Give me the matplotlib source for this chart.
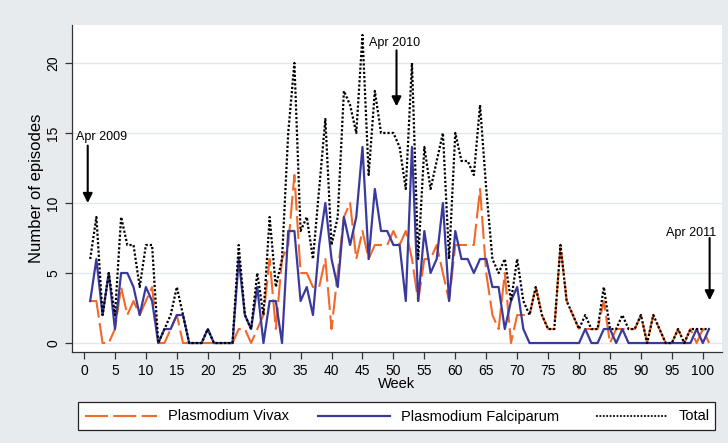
import numpy as np
import matplotlib
matplotlib.use("Agg")
import matplotlib.pyplot as plt
from matplotlib.lines import Line2D
from matplotlib.patches import Rectangle

plt.rcParams['font.family'] = ['Liberation Sans', 'DejaVu Sans']

# weekly episode counts
weeks = list(range(1, 102))

vivax = [3, 3, 0, 0, 1, 4, 2, 3, 2, 3,
         4, 0, 0, 1, 2, 0, 0, 0, 0, 0,
         0, 0, 0, 0, 1, 1, 0, 1, 2, 6,
         1, 6, 7, 12, 5, 5, 4, 4, 6, 1,
         5, 9, 10, 6, 8, 6, 7, 7, 7, 8,
         7, 8, 6, 3, 6, 6, 7, 5, 3, 7,
         7, 7, 7, 11, 5, 2, 1, 5, 0, 2,
         2, 2, 4, 2, 1, 1, 7, 3, 2, 1,
         1, 1, 1, 3, 0, 1, 1, 1, 1, 2,
         0, 2, 1, 0, 0, 1, 0, 1, 0, 1,
         0]

falciparum = [3, 6, 2, 5, 1, 5, 5, 4, 2, 4,
              3, 0, 1, 1, 2, 2, 0, 0, 0, 1,
              0, 0, 0, 0, 6, 2, 1, 4, 0, 3,
              3, 0, 8, 8, 3, 4, 2, 7, 10, 6,
              4, 9, 7, 9, 14, 6, 11, 8, 8, 7,
              7, 3, 14, 3, 8, 5, 6, 10, 3, 8,
              6, 6, 5, 6, 6, 4, 4, 1, 3, 4,
              1, 0, 0, 0, 0, 0, 0, 0, 0, 0,
              1, 0, 0, 1, 1, 0, 1, 0, 0, 0,
              0, 0, 0, 0, 0, 0, 0, 0, 1, 0,
              1]

total = [6, 9, 2, 5, 2, 9, 7, 7, 4, 7,
         7, 0, 1, 2, 4, 2, 0, 0, 0, 1,
         0, 0, 0, 0, 7, 2, 1, 5, 2, 9,
         4, 6, 15, 20, 8, 9, 6, 11, 16, 7,
         9, 18, 17, 15, 22, 12, 18, 15, 15, 15,
         14, 11, 20, 6, 14, 11, 13, 15, 6, 15,
         13, 13, 12, 17, 11, 6, 5, 6, 3, 6,
         3, 2, 4, 2, 1, 1, 7, 3, 2, 1,
         2, 1, 1, 4, 1, 1, 2, 1, 1, 2,
         0, 2, 1, 0, 0, 1, 0, 1, 1, 1,
         1]

x_ticks = list(range(0, 101, 5))
y_ticks = [0, 5, 10, 15, 20]

# (label, week of arrow, text pos, arrow top, arrow tip)
notes = [("Apr 2009", 0.6, (-1.3, 14.7), 14.1, 10.0),
         ("Apr 2010", 50.5, (46.1, 21.4), 20.9, 16.9),
         ("Apr 2011", 101.1, (94.0, 7.85), 7.5, 3.05)]

series_names = ["Plasmodium Vivax", "Plasmodium Falciparum", "Total"]

W, H = 728, 443
bg = '#e8ebee'
c_viv = '#f2692a'
c_fal = '#3a3a9e'
ls_viv = (0, (11, 2.6))
ls_tot = (0, (1, 0.9))

fig = plt.figure(figsize=(W / 100, H / 100), dpi=100, facecolor=bg)
ax = fig.add_axes([72 / W, 1 - 352 / H, 650 / W, 327 / H])
ax.set_facecolor('white')

ax.plot(weeks, vivax, color=c_viv, lw=1.5, linestyle=ls_viv)
ax.plot(weeks, falciparum, color=c_fal, lw=1.6)
ax.plot(weeks, total, color='black', lw=1.6, linestyle=ls_tot)

ax.set_xlim(-1.94, 103.1)
ax.set_ylim(-0.64, 22.71)
ax.set_xticks(x_ticks)
ax.set_yticks(y_ticks)
ax.set_yticklabels([str(v) for v in y_ticks], rotation=90, va='center')
ax.tick_params(axis='both', labelsize=10, color='#333333', length=5, width=0.9, pad=3.5)
ax.grid(axis='y', color='#e3e8eb', lw=1)
ax.set_axisbelow(True)
for s in ['top', 'right']:
    ax.spines[s].set_visible(False)
for s in ['left', 'bottom']:
    ax.spines[s].set_color('#333333')
    ax.spines[s].set_linewidth(0.9)

ax.set_xlabel("Week", fontsize=10.5)
ax.xaxis.set_label_coords(0.5, -(377 - 352) / 327)
ax.xaxis.label.set_va('top')
ax.set_ylabel("Number of episodes", fontsize=12)
ax.yaxis.set_label_coords((44 - 72) / 650, 0.5)

for label, xa, txt, ytop, ytip in notes:
    ax.text(txt[0], txt[1], label, fontsize=9, ha='left', va='center')
    ax.annotate('', xy=(xa, ytip), xytext=(xa, ytop),
                arrowprops=dict(arrowstyle='-|>', color='black', lw=1.5,
                                mutation_scale=14, shrinkA=0, shrinkB=0))

# legend drawn in pixel coordinates on an overlay
lg = fig.add_axes([0, 0, 1, 1])
lg.set_xlim(0, W)
lg.set_ylim(H, 0)
lg.axis('off')
lg.add_patch(Rectangle((78, 402), 637, 28, facecolor='white', edgecolor='#222222', lw=0.9))
handles = [(85, 157, c_viv, ls_viv, 1.5), (318, 390, c_fal, '-', 1.6), (596, 668, 'black', ls_tot, 1.3)]
for (x0, x1, col, ls, lw), name in zip(handles, series_names):
    lg.add_line(Line2D([x0, x1], [416, 416], color=col, linestyle=ls, lw=lw))
    lg.text(x1 + 11, 416.5, name, fontsize=10.5, ha='left', va='center')

fig.savefig("out.png", dpi=100, facecolor=bg)
